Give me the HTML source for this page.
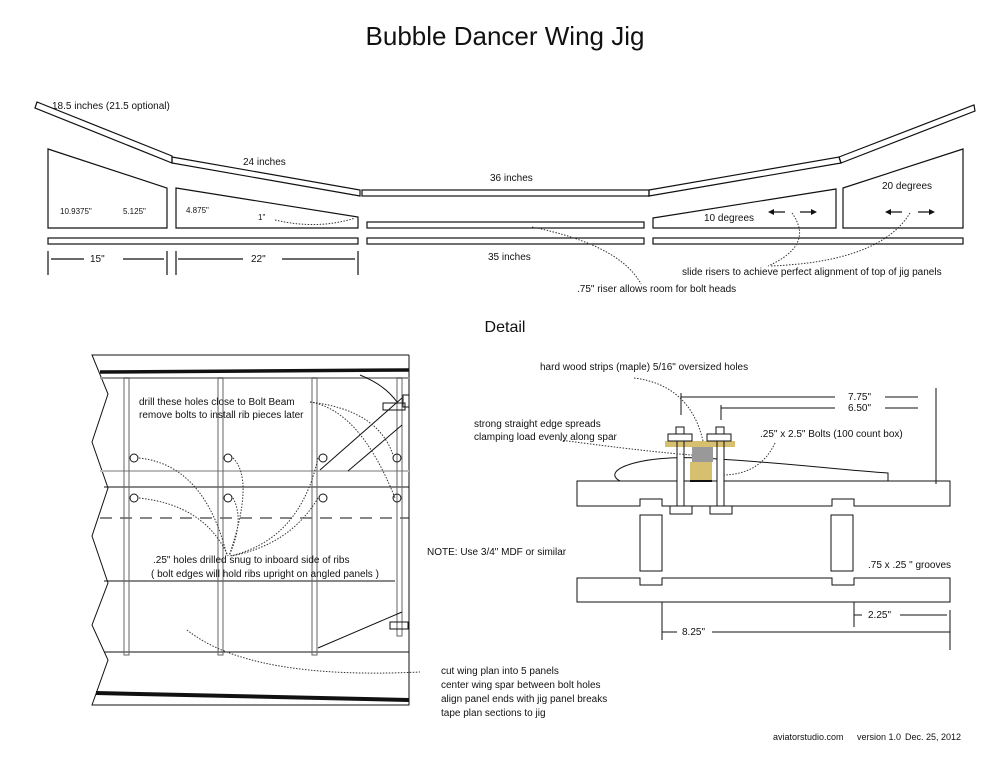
<!DOCTYPE html>
<html><head><meta charset="utf-8"><style>
html,body{margin:0;padding:0;background:#fff}
svg{display:block}
text{font-family:"Liberation Sans",sans-serif;fill:#111}
</style></head><body>
<svg width="1004" height="758" viewBox="0 0 1004 758" xmlns="http://www.w3.org/2000/svg">
<g fill="none" stroke="#111" stroke-width="1.2">
<polygon fill="#fff" points="35,108 37,102 172,156 172,163"/>
<polygon points="172,157 360,190 360,196 172,163"/>
<rect x="362" y="190" width="287" height="6"/>
<polygon points="649,190 839,157 841,163 649,196"/>
<polygon points="839,157 974,105 975,111 841,163"/>
<polygon points="48,149 167,188 167,228 48,228"/>
<polygon points="176,188 358,217 358,228 176,228"/>
<rect x="367" y="222" width="277" height="6"/>
<polygon points="653,218 836,189 836,228 653,228"/>
<polygon points="843,188 963,149 963,228 843,228"/>
<rect x="48" y="238" width="310" height="6"/>
<rect x="367" y="238" width="277" height="6"/>
<rect x="653" y="238" width="310" height="6"/>
<path d="M48 251V275M167 251V275M176 251V275M358 251V275M51 259H84M123 259H164M178 259H243M282 259H355"/>
<path d="M770 212H785M800 212H815M887 212H902M918 212H933"/>
</g>
<g fill="#111">
<polygon points="768,212 774,209 774,215"/><polygon points="817,212 811,209 811,215"/>
<polygon points="885,212 891,209 891,215"/><polygon points="935,212 929,209 929,215"/>
</g>
<g fill="none" stroke="#333" stroke-width="1" stroke-dasharray="1.5,1.5">
<path d="M275 220Q318 230 355 218"/>
<path d="M792 213Q815 245 768 266"/>
<path d="M910 213Q880 262 770 266"/>
<path d="M532 227Q620 245 641 284"/>
</g>
<text x="505" y="45" font-size="26" text-anchor="middle">Bubble Dancer Wing Jig</text>
<g font-size="10">
<text x="52" y="109">18.5 inches (21.5 optional)</text>
<text x="243" y="165">24 inches</text>
<text x="490" y="181">36 inches</text>
<text x="60" y="214" font-size="8">10.9375"</text>
<text x="123" y="214" font-size="8">5.125"</text>
<text x="186" y="213" font-size="8">4.875"</text>
<text x="258" y="220" font-size="8">1"</text>
<text x="90" y="262">15"</text>
<text x="251" y="262">22"</text>
<text x="488" y="260">35 inches</text>
<text x="704" y="221">10 degrees</text>
<text x="882" y="189">20 degrees</text>
<text x="682" y="275">slide risers to achieve perfect alignment of top of jig panels</text>
<text x="577" y="292">.75"  riser allows room for bolt heads</text>
</g>
<text x="505" y="332" font-size="16" text-anchor="middle">Detail</text>

<g fill="none" stroke="#111" stroke-width="1">
<polyline points="409,355 92,355 108,394 92,442 108,488 92,536 108,583 92,625 108,660 92,705 409,705 409,355"/>
<path d="M100 372L409 370" stroke-width="3.5"/>
<path d="M96 693L409 700" stroke-width="4"/>
<path d="M100 378H409" stroke="#999" stroke-width="2"/>
<path d="M100 471H409" stroke="#bbb" stroke-width="2"/>
<path d="M104 487H409"/>
<path d="M100 518H409" stroke-dasharray="12,8"/>
<path d="M104 581H395"/>
<path d="M104 652H409"/>
<rect x="124" y="378" width="5" height="277" stroke="#666"/>
<rect x="218" y="378" width="5" height="277" stroke="#666"/>
<rect x="312" y="378" width="5" height="277" stroke="#666"/>
<rect x="397" y="378" width="5" height="258" stroke="#666"/>
<rect x="403" y="395" width="6" height="12"/>
<rect x="383" y="403" width="22" height="7"/>
<rect x="390" y="622" width="18" height="7"/>
<path d="M320 470L402 398M348 471L402 425M318 648L402 612"/>
<path d="M360 375Q385 385 397 402"/>
<circle cx="134" cy="458" r="4"/><circle cx="228" cy="458" r="4"/><circle cx="323" cy="458" r="4"/><circle cx="397" cy="458" r="4"/>
<circle cx="134" cy="498" r="4"/><circle cx="228" cy="498" r="4"/><circle cx="323" cy="498" r="4"/><circle cx="397" cy="498" r="4"/>
</g>
<g fill="none" stroke="#333" stroke-width="1" stroke-dasharray="1.5,1.5">
<path d="M139 458Q205 465 227 556"/>
<path d="M139 498Q205 505 228 556"/>
<path d="M233 458Q255 480 229 556"/>
<path d="M233 498Q245 520 229 556"/>
<path d="M318 458Q300 540 230 556"/>
<path d="M318 498Q290 545 231 556"/>
<path d="M310 402Q380 410 394 458"/>
<path d="M310 402Q360 410 395 498"/>
<path d="M187 630Q250 680 420 672"/>
</g>
<g font-size="10">
<text x="139" y="405">drill these holes close to Bolt Beam</text>
<text x="139" y="418">remove bolts to install rib pieces later</text>
<text x="153" y="563">.25"  holes drilled snug to inboard side of ribs</text>
<text x="151" y="577">( bolt edges will hold ribs upright on angled panels )</text>
<text x="427" y="555">NOTE:  Use 3/4" MDF or similar</text>
<text x="441" y="674">cut wing plan into 5 panels</text>
<text x="441" y="688">center wing spar between bolt holes</text>
<text x="441" y="702">align panel ends with jig panel breaks</text>
<text x="441" y="716">tape plan sections to jig</text>
<text x="773" y="740" font-size="9">aviatorstudio.com</text>
<text x="857" y="740" font-size="9">version 1.0</text>
<text x="905" y="740" font-size="9">Dec. 25, 2012</text>
</g>

<g fill="none" stroke="#111" stroke-width="1">
<path d="M620 481C600 470 640 455 700 458C780 462 840 470 888 473L888 481Z" fill="#fff"/>
<path d="M577 481H950V506H854V499H832V506H662V499H640V506H577Z" fill="#fff"/>
<path d="M577 578H640V585H662V578H832V585H854V578H950V602H577Z"/>
<rect x="640" y="515" width="22" height="56"/>
<rect x="831" y="515" width="22" height="56"/>
</g>
<rect x="692" y="447" width="21" height="15" fill="#999"/>
<rect x="690" y="462" width="22" height="19" fill="#d6bf6e"/>
<g fill="none" stroke="#111" stroke-width="1">
<rect x="677" y="441" width="7" height="66" fill="#fff"/>
<rect x="717" y="441" width="7" height="66" fill="#fff"/>
<rect x="670" y="506" width="22" height="8" fill="#fff"/>
<rect x="710" y="506" width="22" height="8" fill="#fff"/>
</g>
<rect x="665" y="441" width="70" height="6" fill="#d6bf6e"/>
<g fill="none" stroke="#111" stroke-width="1">
<path d="M677 441V447M684 441V447M717 441V447M724 441V447"/>
<rect x="668" y="434" width="24" height="7" fill="#fff"/>
<rect x="707" y="434" width="24" height="7" fill="#fff"/>
<rect x="676" y="427" width="8" height="7" fill="#fff"/>
<rect x="716" y="427" width="8" height="7" fill="#fff"/>
<path d="M690 481H712" stroke-width="2"/>
<path d="M681 393V415M721 405V420M681 397H835M885 397H918M721 408H835M885 408H918M936 388V484"/>
<path d="M854 602V627M662 602V640M950 610V650M854 615H862M900 615H947M662 632H677M712 632H950"/>
</g>
<g fill="none" stroke="#333" stroke-width="1" stroke-dasharray="1.5,1.5">
<path d="M634 378Q690 385 703 441"/>
<path d="M560 440Q650 452 692 455"/>
<path d="M775 443Q760 475 722 475"/>
</g>
<g font-size="10">
<text x="540" y="370">hard wood strips (maple) 5/16" oversized holes</text>
<text x="474" y="427">strong straight edge spreads</text>
<text x="474" y="440">clamping load evenly along spar</text>
<text x="760" y="437">.25" x 2.5"  Bolts  (100 count box)</text>
<text x="848" y="400">7.75"</text>
<text x="848" y="411">6.50"</text>
<text x="868" y="568">.75 x .25 " grooves</text>
<text x="868" y="618">2.25"</text>
<text x="682" y="635">8.25"</text>
</g>
</svg>
</body></html>
